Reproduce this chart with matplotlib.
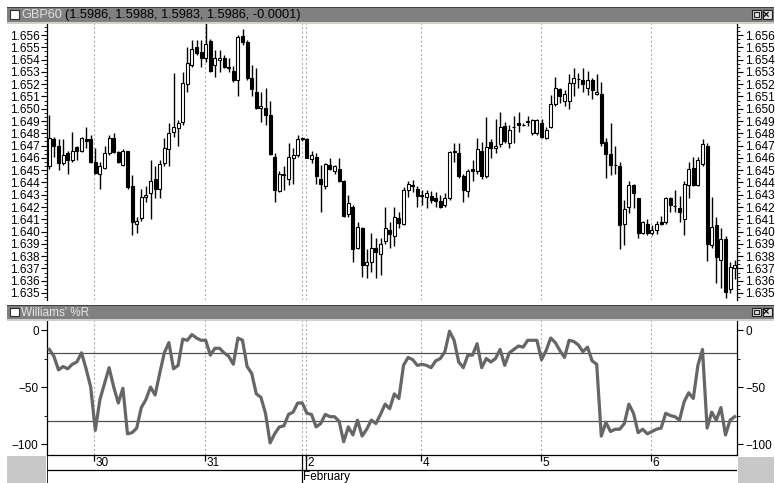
import matplotlib
matplotlib.use("Agg")
import matplotlib.pyplot as plt
from matplotlib.patches import Rectangle
from matplotlib.ticker import MultipleLocator, FormatStrFormatter
import numpy as np

plt.rcParams["font.family"] = ["Liberation Sans", "DejaVu Sans"]

# ---------------- data: hourly GBP candles ----------------
opens = [
    1.6453, 1.6475, 1.6470, 1.6456, 1.6464, 1.6458, 1.6469, 1.6466, 1.6475, 1.6475,
    1.6457, 1.6447, 1.6452, 1.6464, 1.6476, 1.6465, 1.6454, 1.6466, 1.6437, 1.6406,
    1.6411, 1.6428, 1.6431, 1.6443, 1.6435, 1.6456, 1.6467, 1.6481, 1.6484, 1.6489,
    1.6520, 1.6536, 1.6550, 1.6546, 1.6541, 1.6555, 1.6536, 1.6540, 1.6541, 1.6534,
    1.6531, 1.6523, 1.6559, 1.6554, 1.6525, 1.6514, 1.6501, 1.6501, 1.6495, 1.6461,
    1.6433, 1.6447, 1.6443, 1.6460, 1.6462, 1.6475, 1.6475, 1.6459, 1.6461, 1.6443,
    1.6437, 1.6454, 1.6449, 1.6451, 1.6441, 1.6414, 1.6420, 1.6387, 1.6403, 1.6373,
    1.6375, 1.6387, 1.6382, 1.6392, 1.6401, 1.6396, 1.6411, 1.6406, 1.6434, 1.6438,
    1.6435, 1.6430, 1.6428, 1.6429, 1.6427, 1.6425, 1.6422, 1.6427, 1.6466, 1.6464,
    1.6445, 1.6433, 1.6451, 1.6449, 1.6466, 1.6445, 1.6473, 1.6468, 1.6471, 1.6486,
    1.6472, 1.6485, 1.6488, 1.6487, 1.6489, 1.6480, 1.6480, 1.6488, 1.6476, 1.6485,
    1.6504, 1.6516, 1.6506, 1.6506, 1.6521, 1.6524, 1.6523, 1.6517, 1.6523, 1.6512,
    1.6512, 1.6473, 1.6463, 1.6454, 1.6453, 1.6406, 1.6420, 1.6438, 1.6427, 1.6399,
    1.6406, 1.6399, 1.6401, 1.6408, 1.6408, 1.6427, 1.6421, 1.6419, 1.6410, 1.6438,
    1.6452, 1.6438, 1.6455, 1.6470, 1.6389, 1.6405, 1.6377, 1.6394, 1.6353, 1.6370,
]
highs = [
    1.6495, 1.6477, 1.6475, 1.6475, 1.6466, 1.6481, 1.6470, 1.6477, 1.6485, 1.6479,
    1.6468, 1.6457, 1.6470, 1.6479, 1.6480, 1.6466, 1.6467, 1.6466, 1.6446, 1.6412,
    1.6435, 1.6437, 1.6458, 1.6453, 1.6458, 1.6476, 1.6488, 1.6529, 1.6491, 1.6530,
    1.6550, 1.6556, 1.6556, 1.6556, 1.6570, 1.6557, 1.6548, 1.6548, 1.6544, 1.6541,
    1.6535, 1.6560, 1.6565, 1.6556, 1.6536, 1.6533, 1.6514, 1.6517, 1.6506, 1.6464,
    1.6449, 1.6453, 1.6472, 1.6468, 1.6479, 1.6477, 1.6476, 1.6466, 1.6464, 1.6454,
    1.6456, 1.6460, 1.6454, 1.6460, 1.6442, 1.6430, 1.6422, 1.6408, 1.6404, 1.6386,
    1.6399, 1.6395, 1.6395, 1.6420, 1.6408, 1.6420, 1.6416, 1.6436, 1.6441, 1.6442,
    1.6437, 1.6434, 1.6434, 1.6433, 1.6432, 1.6430, 1.6431, 1.6466, 1.6472, 1.6472,
    1.6447, 1.6451, 1.6458, 1.6476, 1.6473, 1.6493, 1.6475, 1.6492, 1.6497, 1.6489,
    1.6487, 1.6494, 1.6497, 1.6488, 1.6494, 1.6492, 1.6492, 1.6492, 1.6485, 1.6511,
    1.6526, 1.6517, 1.6515, 1.6528, 1.6533, 1.6529, 1.6533, 1.6531, 1.6525, 1.6528,
    1.6522, 1.6476, 1.6488, 1.6470, 1.6457, 1.6426, 1.6441, 1.6439, 1.6427, 1.6409,
    1.6410, 1.6405, 1.6409, 1.6413, 1.6428, 1.6428, 1.6434, 1.6429, 1.6441, 1.6457,
    1.6461, 1.6461, 1.6475, 1.6472, 1.6428, 1.6412, 1.6403, 1.6396, 1.6375, 1.6377,
]
lows = [
    1.6451, 1.6461, 1.6450, 1.6454, 1.6447, 1.6457, 1.6458, 1.6465, 1.6468, 1.6456,
    1.6447, 1.6435, 1.6451, 1.6462, 1.6464, 1.6456, 1.6453, 1.6435, 1.6397, 1.6399,
    1.6409, 1.6424, 1.6410, 1.6427, 1.6427, 1.6453, 1.6453, 1.6477, 1.6470, 1.6487,
    1.6514, 1.6534, 1.6544, 1.6534, 1.6538, 1.6530, 1.6526, 1.6530, 1.6533, 1.6530,
    1.6522, 1.6510, 1.6552, 1.6523, 1.6510, 1.6500, 1.6489, 1.6487, 1.6462, 1.6424,
    1.6432, 1.6434, 1.6438, 1.6439, 1.6461, 1.6474, 1.6460, 1.6456, 1.6439, 1.6416,
    1.6435, 1.6450, 1.6447, 1.6440, 1.6412, 1.6412, 1.6375, 1.6386, 1.6363, 1.6362,
    1.6367, 1.6362, 1.6365, 1.6390, 1.6387, 1.6388, 1.6403, 1.6405, 1.6428, 1.6432,
    1.6420, 1.6422, 1.6419, 1.6423, 1.6420, 1.6419, 1.6420, 1.6426, 1.6457, 1.6444,
    1.6424, 1.6428, 1.6441, 1.6447, 1.6443, 1.6444, 1.6460, 1.6464, 1.6469, 1.6472,
    1.6468, 1.6472, 1.6481, 1.6486, 1.6486, 1.6479, 1.6479, 1.6476, 1.6475, 1.6484,
    1.6502, 1.6505, 1.6502, 1.6500, 1.6510, 1.6517, 1.6514, 1.6511, 1.6508, 1.6511,
    1.6470, 1.6444, 1.6446, 1.6447, 1.6386, 1.6389, 1.6415, 1.6419, 1.6395, 1.6398,
    1.6397, 1.6397, 1.6398, 1.6405, 1.6406, 1.6416, 1.6416, 1.6408, 1.6397, 1.6427,
    1.6437, 1.6437, 1.6453, 1.6376, 1.6387, 1.6358, 1.6354, 1.6346, 1.6350, 1.6361,
]
closes = [
    1.6476, 1.6470, 1.6456, 1.6462, 1.6458, 1.6466, 1.6466, 1.6476, 1.6474, 1.6457,
    1.6448, 1.6453, 1.6464, 1.6476, 1.6465, 1.6457, 1.6466, 1.6436, 1.6408, 1.6409,
    1.6428, 1.6430, 1.6441, 1.6435, 1.6455, 1.6468, 1.6480, 1.6485, 1.6488, 1.6521,
    1.6537, 1.6549, 1.6545, 1.6541, 1.6553, 1.6531, 1.6541, 1.6541, 1.6534, 1.6533,
    1.6523, 1.6558, 1.6554, 1.6525, 1.6516, 1.6501, 1.6502, 1.6495, 1.6463, 1.6434,
    1.6447, 1.6446, 1.6461, 1.6462, 1.6475, 1.6476, 1.6460, 1.6462, 1.6445, 1.6439,
    1.6455, 1.6451, 1.6453, 1.6441, 1.6413, 1.6423, 1.6386, 1.6404, 1.6373, 1.6375,
    1.6387, 1.6383, 1.6390, 1.6403, 1.6398, 1.6412, 1.6407, 1.6434, 1.6439, 1.6437,
    1.6429, 1.6429, 1.6431, 1.6426, 1.6425, 1.6420, 1.6427, 1.6465, 1.6465, 1.6445,
    1.6434, 1.6449, 1.6449, 1.6467, 1.6445, 1.6469, 1.6468, 1.6470, 1.6485, 1.6474,
    1.6483, 1.6485, 1.6487, 1.6487, 1.6490, 1.6491, 1.6491, 1.6477, 1.6483, 1.6504,
    1.6517, 1.6510, 1.6512, 1.6521, 1.6525, 1.6524, 1.6520, 1.6523, 1.6515, 1.6514,
    1.6472, 1.6463, 1.6454, 1.6454, 1.6405, 1.6418, 1.6438, 1.6431, 1.6399, 1.6408,
    1.6399, 1.6401, 1.6406, 1.6406, 1.6427, 1.6422, 1.6421, 1.6416, 1.6439, 1.6451,
    1.6438, 1.6458, 1.6471, 1.6390, 1.6404, 1.6379, 1.6394, 1.6351, 1.6371, 1.6373,
]

# Williams' %R per bar
williams_r = [
    -17, -23, -35, -32, -34, -30, -28, -20, -34, -50,
    -88, -61, -47, -33, -50, -64, -51, -91, -90, -86,
    -68, -61, -50, -57, -38, -20, -11, -34, -31, -8,
    -9, -4, -7, -9, -9, -22, -16, -16, -20, -23,
    -30, -7, -9, -32, -38, -56, -59, -73, -99, -91,
    -85, -84, -74, -72, -64, -64, -73, -74, -85, -82,
    -74, -76, -76, -80, -98, -85, -92, -79, -93, -87,
    -79, -82, -74, -65, -69, -56, -60, -31, -24, -26,
    -31, -30, -31, -33, -27, -25, -19, -1, -9, -28,
    -33, -22, -22, -12, -33, -25, -28, -25, -17, -31,
    -20, -17, -14, -15, -9, -9, -9, -26, -18, -7,
    -11, -18, -24, -9, -10, -13, -19, -15, -27, -30,
    -93, -81, -89, -87, -87, -82, -65, -73, -90, -87,
    -91, -89, -87, -86, -73, -75, -76, -79, -63, -55,
    -60, -31, -17, -86, -72, -79, -68, -92, -79, -76,
]
wr_levels = [-20, -80]

# day separators (bar index where each day starts) and their labels
day_bars = [10, 34, 56, 81, 107, 131]
day_labels = ["30", "31", "2", "4", "5", "6"]
month_bar = 56
month_label = "February"

symbol = "GBP60"
quote = "(1.5986, 1.5988, 1.5983, 1.5986, -0.0001)"
indicator = "Williams' %R"

# ---------------- figure ----------------
W, H = 775, 483
fig = plt.figure(figsize=(W / 100, H / 100), dpi=100)
fig.patch.set_facecolor("white")


def px_axes(left, top, right, bottom):
    return fig.add_axes([left / W, 1 - bottom / H, (right - left) / W, (bottom - top) / H])


def fig_rect(left, top, right, bottom, **kw):
    fig.add_artist(Rectangle((left / W, 1 - bottom / H), (right - left) / W,
                             (bottom - top) / H, transform=fig.transFigure, **kw))


def title_bar(top, bottom, text_parts, size):
    fig_rect(7, top, 774, bottom, facecolor="#808080", edgecolor="none")
    fig_rect(7, top, 774, top + 1, facecolor="#404040", edgecolor="none")
    fig_rect(7, bottom, 774, bottom + 2, facecolor="#d4d0c8", edgecolor="none")
    # window icon on the left
    fig_rect(10, top + 3, 19, bottom - 3, facecolor="white", edgecolor="#303030", linewidth=0.8)
    # restore / close boxes on the right
    fig_rect(752, top + 3, 761, bottom - 3, facecolor="#e0e0e0", edgecolor="#202020", linewidth=0.8)
    fig_rect(763, top + 3, 772, bottom - 3, facecolor="#e0e0e0", edgecolor="#202020", linewidth=0.8)
    fig.text(766 / W, 1 - ((top + bottom) / 2) / H, "×", ha="center", va="center",
             fontsize=8, color="black", fontweight="bold")
    fig_rect(754, top + 5, 759, bottom - 5, facecolor="none", edgecolor="#202020", linewidth=0.8)
    x = 21
    for txt, col in text_parts:
        t = fig.text(x / W, 1 - ((top + bottom) / 2 + 0.5) / H, txt, ha="left", va="center",
                     fontsize=size, color=col)
        fig.canvas.draw()
        bb = t.get_window_extent()
        x = bb.x1 + 3


x_idx = np.arange(len(closes))
xlim = (-0.5, len(closes) - 0.5)
grid_kw = dict(color="#b0b0b0", linewidth=0.8, linestyle=(0, (2, 2)))
day_lines = [b - 0.2 for b in day_bars]
month_line = month_bar - 1.1

# ---------------- price panel ----------------
ax = px_axes(47, 23, 737, 300)
ax.set_xlim(*xlim)
ax.set_ylim(1.63443, 1.65698)

o = np.array(opens)
h = np.array(highs)
l = np.array(lows)
c = np.array(closes)
up = c >= o
ax.vlines(x_idx, l, h, color="black", linewidth=1.0, zorder=2)
body_lo = np.minimum(o, c)
body_h = np.abs(c - o)
ax.bar(x_idx[up], body_h[up], bottom=body_lo[up], width=0.64,
       facecolor="white", edgecolor="black", linewidth=0.8, zorder=3)
ax.bar(x_idx[~up], body_h[~up], bottom=body_lo[~up], width=0.64,
       facecolor="black", edgecolor="black", linewidth=0.8, zorder=3)

for xd in day_lines + [month_line]:
    ax.axvline(xd, zorder=1, **grid_kw)

ax.yaxis.set_major_locator(MultipleLocator(0.001))
ax.yaxis.set_minor_locator(MultipleLocator(0.001 / 3))
ax.yaxis.set_major_formatter(FormatStrFormatter("%.3f"))
ax.tick_params(axis="y", which="both", left=True, right=True, labelleft=True,
               labelright=True, direction="out", labelsize=8.5, pad=1.5, colors="black")
ax.tick_params(axis="y", which="major", length=4, width=0.8)
ax.tick_params(axis="y", which="minor", length=2, width=0.6)
ax.set_xticks([])
for s in ("left", "right"):
    ax.spines[s].set_color("black")
    ax.spines[s].set_linewidth(0.9)
for s in ("top", "bottom"):
    ax.spines[s].set_visible(False)

# ---------------- Williams' %R panel ----------------
aw = px_axes(47, 320, 737, 455)
aw.set_xlim(*xlim)
aw.set_ylim(-109.6, 8.8)
aw.plot(x_idx, williams_r, color="#666666", linewidth=2.3, solid_joinstyle="round", zorder=3)
for lv in wr_levels:
    aw.axhline(lv, color="#505050", linewidth=0.9, zorder=2)
for xd in day_lines + [month_line]:
    aw.axvline(xd, zorder=1, **grid_kw)
aw.yaxis.set_major_locator(MultipleLocator(50))
aw.yaxis.set_minor_locator(MultipleLocator(25))
aw.tick_params(axis="y", which="both", left=True, right=True, labelleft=True,
               labelright=True, direction="out", labelsize=8.5, pad=2, colors="black")
aw.tick_params(axis="y", which="major", length=4, width=0.8)
aw.tick_params(axis="y", which="minor", length=2, width=0.6)
aw.set_xticks([])
for s in ("left", "right", "bottom"):
    aw.spines[s].set_color("black")
    aw.spines[s].set_linewidth(0.9)
aw.spines["top"].set_visible(False)

# ---------------- date axis ----------------
ad = px_axes(47, 455, 737, 483)
ad.set_xlim(*xlim)
ad.set_ylim(0, 1)
ad.axis("off")
row = 13 / 28
ad.axhline(row, color="black", linewidth=0.9)
ad.axvline(xlim[0], color="black", linewidth=1.2)
for xd, lab in zip(day_lines, day_labels):
    ad.vlines(xd, 1 - 6 / 28, 1, color="black", linewidth=0.9)
    ad.text(xd + 0.35, 0.72, lab, ha="left", va="center", fontsize=8.5)
# month boundary: double rule in the day row, single rule in the month row
ad.vlines(month_line, 0, 1, color="black", linewidth=0.9)
ad.vlines(month_bar - 0.2, row, 1, color="black", linewidth=0.9)
ad.text(month_line + 0.3, 0.2, month_label, ha="left", va="center", fontsize=8.5)

fig_rect(7, 456, 46, 483, facecolor="#c8c8c8", edgecolor="none")
fig_rect(738, 457, 774, 483, facecolor="#c8c8c8", edgecolor="none")

# ---------------- window title bars ----------------
title_bar(7, 22, [(symbol, "#e0e0e0"), (quote, "black")], 9.2)
title_bar(305, 319, [(indicator, "#e8e8e8")], 8.5)

fig.savefig("out.png", dpi=100, facecolor="white")
